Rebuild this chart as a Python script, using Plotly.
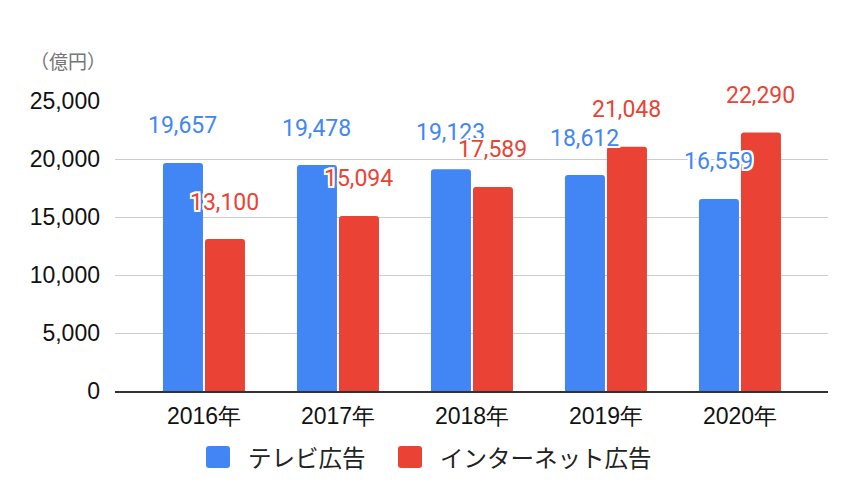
import plotly.graph_objects as go

# ---- data ----
years = ["2016年", "2017年", "2018年", "2019年", "2020年"]
tv_ad = [19657, 19478, 19123, 18612, 16559]
net_ad = [13100, 15094, 17589, 21048, 22290]
series_names = ["テレビ広告", "インターネット広告"]
series_colors = ["#4285F4", "#EA4335"]
y_tick_values = [0, 5000, 10000, 15000, 20000, 25000]
y_tick_labels = ["0", "5,000", "10,000", "15,000", "20,000", "25,000"]
unit_label = "（億円）"

series_values = [tv_ad, net_ad]

fig = go.Figure()
for name, vals, col in zip(series_names, series_values, series_colors):
    fig.add_trace(go.Bar(x=years, y=vals, name=name, marker=dict(color=col, line=dict(width=0)),
                         showlegend=False))

halo = ", ".join(f"{dx}px {dy}px 0 #fff" for dx, dy in
                 [(-2, -2), (2, -2), (-2, 2), (2, 2), (0, 2), (0, -2), (2, 0), (-2, 0), (1, 1), (-1, -1)])

annotations = []
label_font = "Roboto, Arial, sans-serif"
for k, (vals, col) in enumerate(zip(series_values, series_colors)):
    shift = -21 if k == 0 else 21
    for yr, v in zip(years, vals):
        annotations.append(dict(
            x=yr, y=v, xref="x", yref="y", text=f"{v:,}", showarrow=False,
            xshift=shift, yshift=37, xanchor="center", yanchor="middle",
            font=dict(family=label_font, size=23, color=col, shadow=halo)))

# page offset of 8px (body margin) is compensated in margins below
PL, PR, PT, PB = 115, 828, 101, 391  # plot area in page pixels

# unit label
annotations.append(dict(x=(108 - PL) / (PR - PL), y=(PB - 60) / (PB - PT), xref="paper", yref="paper",
                        text=unit_label, showarrow=False, xanchor="right", yanchor="middle",
                        font=dict(family="Noto Sans CJK JP", size=19, color="#757575")))

# custom legend
legend_specs = [(206, 246), (398, 438)]
ly = (PB - 457) / (PB - PT)
shapes = []
rr = "M 3,-11 L 21,-11 Q 24,-11 24,-8 L 24,8 Q 24,11 21,11 L 3,11 Q 0,11 0,8 L 0,-8 Q 0,-11 3,-11 Z"
for (sx, tx), name, col in zip(legend_specs, series_names, series_colors):
    shapes.append(dict(type="path", xref="paper", yref="paper", xsizemode="pixel", ysizemode="pixel",
                       xanchor=(sx - PL) / (PR - PL), yanchor=ly, path=rr, fillcolor=col,
                       line=dict(width=0)))
    annotations.append(dict(x=(tx - PL) / (PR - PL), y=ly, xref="paper", yref="paper", text=name,
                            showarrow=False, xanchor="left", yanchor="middle",
                            font=dict(family="Noto Sans CJK JP", size=23.5, color="#222222")))

W, H, OFF = 850, 490, 8
fig.update_layout(
    width=W, height=H,
    margin=dict(l=PL - OFF, r=W - (PR - OFF), t=PT - OFF, b=H - (PB - OFF)),
    paper_bgcolor="white", plot_bgcolor="white",
    barmode="group", bargap=0.373, bargroupgap=0.048, barcornerradius=3,
    showlegend=False,
    annotations=annotations, shapes=shapes,
    xaxis=dict(type="category", range=[-0.664, 4.657], showgrid=False, showline=True,
               linecolor="#333333", linewidth=1.6, ticks="", ticklabelstandoff=4,
               tickfont=dict(family="Liberation Sans, Arial", size=23, color="#111111")),
    yaxis=dict(range=[0, 25000], tickvals=y_tick_values, ticktext=y_tick_labels,
               showgrid=True, gridcolor="#cccccc", gridwidth=1.3, zeroline=False, showline=False,
               ticks="", ticklabelstandoff=14,
               tickfont=dict(family="Liberation Sans, Arial, sans-serif", size=23, color="#111111")),
)

fig.write_html("out.html")
